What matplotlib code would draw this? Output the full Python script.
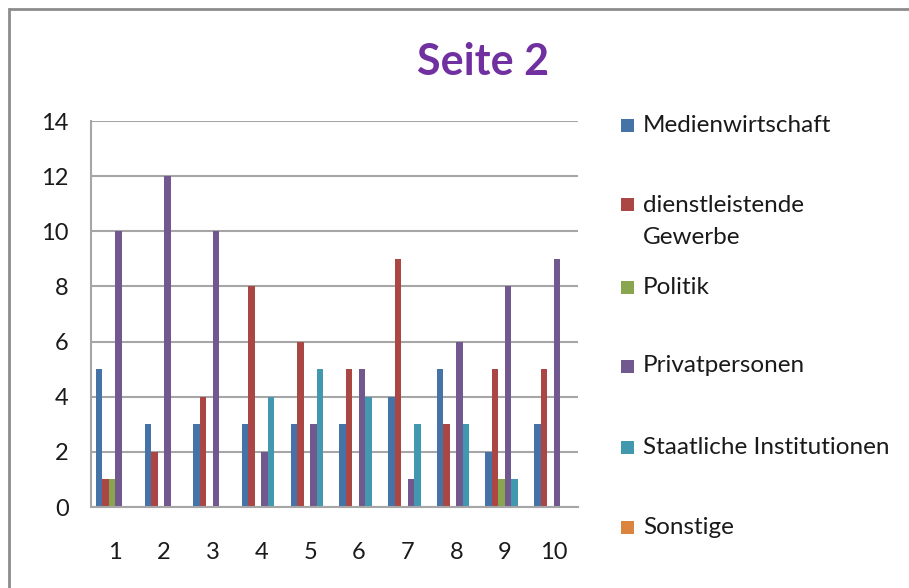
import numpy as np
import matplotlib
matplotlib.use("Agg")
import matplotlib.pyplot as plt
from matplotlib.patches import Rectangle
from matplotlib.lines import Line2D

plt.rcParams['font.family'] = ['Lato', 'DejaVu Sans']

categories = ['1', '2', '3', '4', '5', '6', '7', '8', '9', '10']
medienwirtschaft = [5, 3, 3, 3, 3, 3, 4, 5, 2, 3]
dienstleistende = [1, 2, 4, 8, 6, 5, 9, 3, 5, 5]
politik = [1, 0, 0, 0, 0, 0, 0, 0, 1, 0]
privatpersonen = [10, 12, 10, 2, 3, 5, 1, 6, 8, 9]
staatliche = [0, 0, 0, 4, 5, 4, 3, 3, 1, 0]
sonstige = [0, 0, 0, 0, 0, 0, 0, 0, 0, 0]

series = [
    ('Medienwirtschaft', medienwirtschaft, '#4572A7'),
    ('dienstleistende\nGewerbe', dienstleistende, '#AA4643'),
    ('Politik', politik, '#89A54E'),
    ('Privatpersonen', privatpersonen, '#71588F'),
    ('Staatliche Institutionen', staatliche, '#4198AF'),
    ('Sonstige', sonstige, '#DB843D'),
]

W, H = 909, 588
fig = plt.figure(figsize=(W / 100, H / 100), dpi=100)
fig.patch.set_facecolor('white')

# outer chart frame: only the top and left edges fall inside the image
fx, fy = 9 / W, 1 - 8.5 / H
fig.add_artist(Line2D([fx, 1.05], [fy, fy], transform=fig.transFigure,
                      color='#8C8C8C', linewidth=2, solid_capstyle='butt'))
fig.add_artist(Line2D([fx, fx], [-0.05, fy], transform=fig.transFigure,
                      color='#8C8C8C', linewidth=2, solid_capstyle='projecting'))

ax = fig.add_axes([91 / W, 1 - 507 / H, (578 - 91) / W, (507 - 121) / H])

x = np.arange(1, len(categories) + 1)
w = 1 / 7.5
for i, (name, vals, col) in enumerate(series):
    ax.bar(x + (i - 2.5) * w, vals, width=w, color=col, linewidth=0)

ax.set_xlim(0.5, 10.5)
ax.set_ylim(0, 14)
ax.set_yticks(range(0, 15, 2))
ax.set_xticks(x)
ax.set_xticklabels(categories)
ax.yaxis.grid(True, color='#A6A6A6', linewidth=1.5)
ax.set_axisbelow(True)
for s in ['top', 'right']:
    ax.spines[s].set_visible(False)
for s in ['left', 'bottom']:
    ax.spines[s].set_color('#A6A6A6')
    ax.spines[s].set_linewidth(1.5)
ax.tick_params(length=0, labelsize=17, colors='#1A1A1A')
ax.tick_params(axis='y', pad=16)
ax.tick_params(axis='x', pad=25)

fig.text(483 / W, 1 - 62 / H, 'Seite 2', ha='center', va='center',
         fontsize=31, fontweight='bold', color='#7030A0')

# legend entries
legend_y = [125, 205, 287, 366, 447, 527]
for (name, vals, col), y in zip(series, legend_y):
    fig.patches.append(Rectangle((621 / W, 1 - (y + 6.5) / H), 13 / W, 13 / H,
                                 transform=fig.transFigure, color=col, linewidth=0))
    for k, line in enumerate(name.split('\n')):
        fig.text(643 / W, 1 - (y + 32 * k) / H, line, ha='left', va='center',
                 fontsize=17.5, color='#1A1A1A')

fig.savefig('out.png', dpi=100)
